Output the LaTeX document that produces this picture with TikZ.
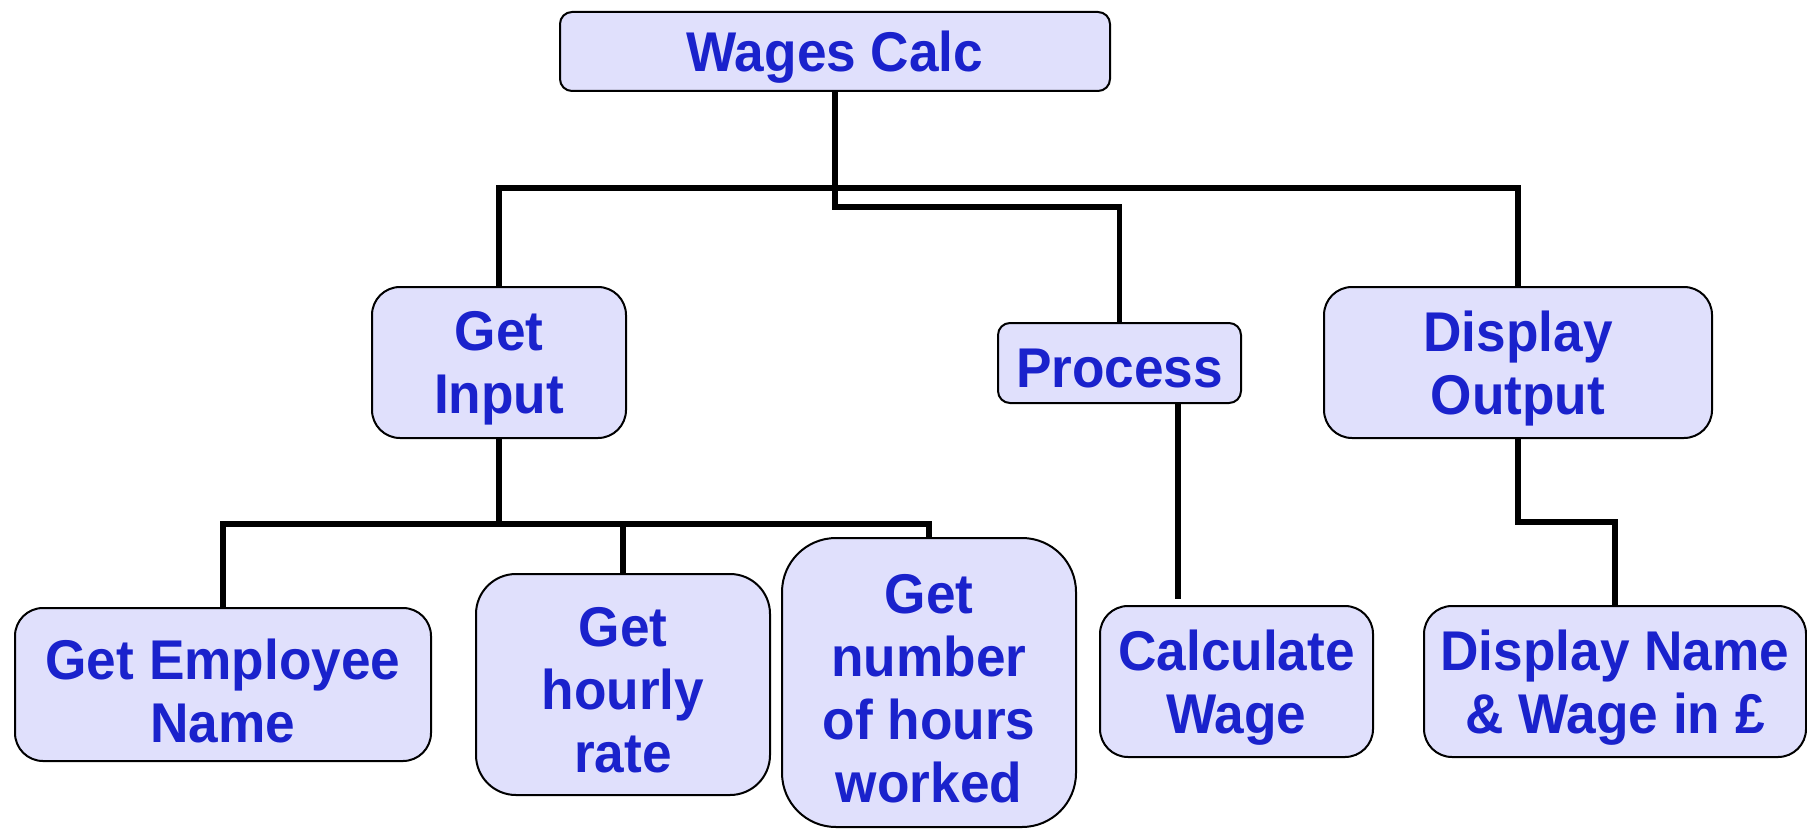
\documentclass[tikz,border=0pt]{standalone}
\usepackage{fontspec}
\setmainfont{Liberation Sans}
\newfontfamily\boxfont[FakeStretch=0.95]{Liberation Sans}
\definecolor{boxfill}{RGB}{224,224,252}
\definecolor{txt}{RGB}{26,34,204}
\begin{document}
\begin{tikzpicture}[x=0.5pt,y=-0.5pt,
  box/.style={draw=black, line width=1pt, fill=boxfill, inner sep=0pt},
  boxtext/.style={text=txt, font=\boxfont\fontsize{28}{31.5}\selectfont\bfseries,
    align=center, inner sep=0pt, yshift=-3pt},
  conn/.style={draw=black, line width=2.8pt, line join=miter}]
\useasboundingbox (0,0) rectangle (1807,829);
\node[box, minimum width=275pt, minimum height=39.5pt, rounded corners=6pt] (wages) at (835,51.5) {};
\node[box, minimum width=127pt, minimum height=75.5pt, rounded corners=14pt] (getin) at (499,362.5) {};
\node[box, minimum width=121.5pt, minimum height=40pt, rounded corners=6pt] (proc) at (1119.5,363) {};
\node[box, minimum width=194pt, minimum height=75.5pt, rounded corners=14pt] (disp) at (1518,362.5) {};
\node[box, minimum width=208pt, minimum height=76.5pt, rounded corners=14pt] (emp) at (223,684.5) {};
\node[box, minimum width=147pt, minimum height=110.5pt, rounded corners=20pt] (hour) at (623,684.5) {};
\node[box, minimum width=147pt, minimum height=144.5pt, rounded corners=27pt] (num) at (929,682.5) {};
\node[box, minimum width=136.5pt, minimum height=75.5pt, rounded corners=14pt] (calc) at (1236.5,681.5) {};
\node[box, minimum width=191pt, minimum height=75.5pt, rounded corners=14pt] (dname) at (1615,681.5) {};
\node[boxtext] (wages-t) at (wages.center) {Wages Calc};
\node[boxtext] (getin-t) at (getin.center) {Get\\Input};
\node[boxtext] (proc-t) at (proc.center) {Process};
\node[boxtext] (disp-t) at (disp.center) {Display\\Output};
\node[boxtext] (emp-t) at (emp.center) {Get Employee\\Name};
\node[boxtext] (hour-t) at (hour.center) {Get\\hourly\\rate};
\node[boxtext] (num-t) at (num.center) {Get\\number\\of hours\\worked};
\node[boxtext] (calc-t) at (calc.center) {Calculate\\Wage};
\node[boxtext] (dname-t) at (dname.center) {Display Name\\\& Wage in £};
% top level
\coordinate (bus1) at (835,188);
\coordinate (bus2) at (835,207);
\draw[conn] (wages.south) -- (bus2) -- (bus2 -| proc.north) -- (proc.north);
\draw[conn] (getin.north) -- (getin.north |- bus1) -- (disp.north |- bus1) -- (disp.north);
% get input children
\coordinate (bus3) at (499,524);
\draw[conn] (getin.south) -- (bus3);
\draw[conn] (emp.north) -- (emp.north |- bus3) -- (num.north |- bus3) -- (num.north);
\draw[conn] (hour.north |- bus3) -- (hour.north);
% process child
\coordinate (pstem) at (1178,599);
\draw[conn] (pstem |- proc.south) -- (pstem);
% display child
\coordinate (bus4) at (1518,522);
\draw[conn] (disp.south) -- (bus4) -- (bus4 -| dname.north) -- (dname.north);
\end{tikzpicture}
\end{document}
